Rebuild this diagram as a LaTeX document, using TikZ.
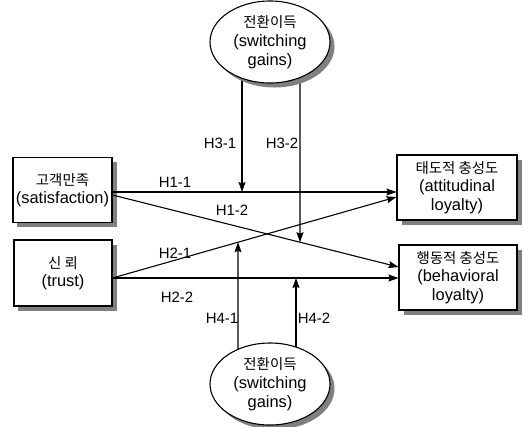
\documentclass[tikz,border=0pt]{standalone}
\usepackage{fontspec}
\setmainfont{Liberation Sans}
\newfontfamily\kr{Noto Sans CJK KR}
\usetikzlibrary{shadows,arrows.meta,shapes.geometric,backgrounds}
\begin{document}
\begin{tikzpicture}[x=1bp,y=-1bp,
  shad/.style={drop shadow={shadow xshift=4.5bp,shadow yshift=-4.5bp,fill=black!50,opacity=1}},
  box/.style={draw,line width=1.1bp,fill=white,inner sep=0pt,align=center,
    font=\fontsize{16.5}{18.5}\selectfont,shad},
  oval/.style={ellipse,draw,line width=1.1bp,fill=white,inner sep=0pt,align=center,
    font=\fontsize{16.5}{19}\selectfont,minimum width=120bp,minimum height=82bp,shad},
  lab/.style={font=\fontsize{15}{16}\selectfont,inner sep=0pt},
  arr/.style={line width=1.1bp,-{Stealth[length=10bp,width=7bp,inset=1.5bp]}}]
\useasboundingbox (0,0) rectangle (523,426);
\newcommand{\ko}[1]{{\kr\fontsize{14.5}{18}\selectfont #1}}
% nodes
\node[box,minimum width=99bp,minimum height=65bp] (sat) at (62.5,190) {\ko{고객만족}\\(satisfaction)};
\node[box,minimum width=98bp,minimum height=66bp] (tru) at (63,273) {\ko{신 뢰}\\(trust)};
\node[box,minimum width=120bp,minimum height=65bp] (att) at (457,187.5) {\ko{태도적 충성도}\\(attitudinal\\loyalty)};
\node[box,minimum width=118bp,minimum height=65bp] (beh) at (458,277.5) {\ko{행동적 충성도}\\(behavioral\\loyalty)};
\node[oval] (sgt) at (270,42) {\ko{전환이득}\\(switching\\gains)};
\node[oval] (sgb) at (270,384) {\ko{전환이득}\\(switching\\gains)};
% connector end points
\coordinate (h11s) at ([yshift=-2bp]sat.east);
\coordinate (h12s) at ([yshift=-5bp]sat.east);
\coordinate (h12e) at ([yshift=10.5bp]beh.west);
\coordinate (h21s) at ([yshift=-5bp]tru.east);
\coordinate (h21e) at ([yshift=-9.5bp]att.west);
\coordinate (h22s) at ([yshift=-5bp]tru.east);
\coordinate (t31) at ([xshift=-28bp]sgt.center);
\coordinate (t32) at ([xshift=30bp]sgt.center);
\coordinate (t32b) at (t32 |- beh.south);
\coordinate (t41) at ([xshift=-32bp]sgb.center);
\coordinate (t41t) at (t41 |- att.north);
\coordinate (t42) at ([xshift=26bp]sgb.center);
\draw[arr] (h11s) -- (h11s -| att.west);
\draw[arr] (h12s) -- (h12e);
\draw[arr] (h21s) -- (h21e);
\draw[arr] (h22s) -- (h22s -| beh.west);
\begin{scope}[on background layer]
\draw[arr] (t31) -- (t31 |- h11s);
\draw[arr] (t32) -- (intersection of h12s--h12e and t32--t32b);
\draw[arr] (t41) -- (intersection of h21s--h21e and t41--t41t);
\draw[arr] (t42) -- (t42 |- h22s);
\end{scope}
% labels
\node[lab] (l11) at (175,182) {H1-1};
\node[lab] (l12) at (232,210) {H1-2};
\node[lab] (l21) at (175,253) {H2-1};
\node[lab] (l22) at (177,297) {H2-2};
\node[lab] (l31) at (220,143) {H3-1};
\node[lab] (l32) at (282,143) {H3-2};
\node[lab] (l41) at (222,318) {H4-1};
\node[lab] (l42) at (314,318) {H4-2};
\end{tikzpicture}
\end{document}
